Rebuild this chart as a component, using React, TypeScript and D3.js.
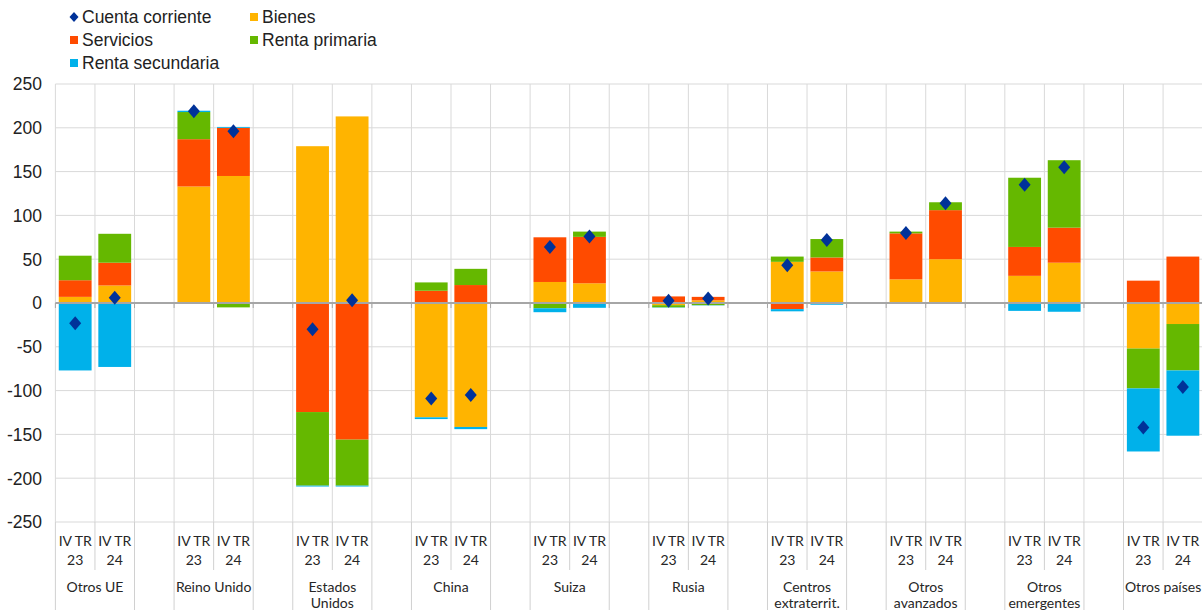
import { scaleBand, scaleLinear, stack, stackOffsetDiverging } from 'd3';

const categories = ['Otros UE', 'Reino Unido', 'Estados Unidos', 'China', 'Suiza', 'Rusia',
  'Centros extraterrit.', 'Otros avanzados', 'Otros emergentes', 'Otros países'];
const categoryLines = [['Otros UE'], ['Reino Unido'], ['Estados', 'Unidos'], ['China'], ['Suiza'], ['Rusia'],
  ['Centros', 'extraterrit.'], ['Otros', 'avanzados'], ['Otros', 'emergentes'], ['Otros países']];
const periods = ['IV TR 23', 'IV TR 24'];
const periodLines = [['IV TR', '23'], ['IV TR', '24']];
const yTicks = [-250, -200, -150, -100, -50, 0, 50, 100, 150, 200, 250];

// one value per bar: cat0 23, cat0 24, cat1 23, ...
const bienes = [7, 20, 133, 145, 179, 213, -130.5, -141.5, 24, 22.5, -2.5, 3, 47, 36, 27, 50, 31, 46, -52, -24];
const servicios = [19, 26, 54, 55, -124.5, -156, 14, 20.5, 51, 53, 7.5, 4, -7, 16, 52.5, 56, 33, 40, 25.5, 53];
const rentaPrimaria = [28, 33, 31, -5, -84, -52.5, 9.5, 18.5, -6, 6, -2.5, -2.5, 6, 21, 2, 9, 79, 77, -45.5, -53];
const rentaSecundaria = [-77, -73, 1.5, 1, -1, -1, -2, -2.5, -4.5, -5.5, -0.3, -0.3, -2.5, -2, -1, -1, -9, -10, -72, -74.5];
const cuentaCorriente = [-23, 6, 219, 196, -30, 3, -109, -105, 64, 76, 2.5, 5, 43, 72, 80, 114, 135, 155, -142, -96];

const seriesNames = ['Bienes', 'Servicios', 'Renta primaria', 'Renta secundaria'];
const colors = ['#FFB400', '#FF4B00', '#65B800', '#00B1EA'];
const ccColor = '#003299';

const W = 1202;
const H = 610;
const left = 55.4;
const step = 39.56;
const top = 84;
const bottom = 522;

export default function App() {
  const slots: string[] = [];
  categories.forEach((c, i) => {
    periods.forEach((p) => slots.push(i + '|' + p));
    slots.push(i + '|gap');
  });

  const x = scaleBand<string>()
    .domain(slots)
    .range([left, left + step * slots.length])
    .paddingInner(0.17)
    .paddingOuter(0.085);
  const y = scaleLinear().domain([-250, 250]).range([bottom, top]);

  const rows = bienes.map((_, i) => ({
    key: Math.floor(i / 2) + '|' + periods[i % 2],
    'Bienes': bienes[i],
    'Servicios': servicios[i],
    'Renta primaria': rentaPrimaria[i],
    'Renta secundaria': rentaSecundaria[i],
    cc: cuentaCorriente[i],
  }));

  const stacked = stack<any>().keys(seriesNames).offset(stackOffsetDiverging)(rows);

  const bounds = slots.map((_, i) => left + step * i).concat([left + step * slots.length]);
  const font = '"Liberation Sans", Arial, sans-serif';
  const catFont = 'Lato, "Liberation Sans", sans-serif';

  const legend = [
    { name: 'Cuenta corriente', color: ccColor, diamond: true, x: 74, y: 17 },
    { name: 'Bienes', color: colors[0], x: 254, y: 17 },
    { name: 'Servicios', color: colors[1], x: 74, y: 40 },
    { name: 'Renta primaria', color: colors[2], x: 254, y: 40 },
    { name: 'Renta secundaria', color: colors[3], x: 74, y: 63 },
  ];

  return (
    <div style={{ position: 'fixed', left: 0, top: 0 }}>
      <svg width={W} height={H} style={{ display: 'block', background: '#fff' }}>
        {/* horizontal grid */}
        {yTicks.map((t) => (
          <line key={'h' + t} x1={left} x2={W} y1={y(t)} y2={y(t)} stroke="#d9d9d9" strokeWidth={1} />
        ))}
        {/* vertical grid */}
        {bounds.map((b, i) => (
          <line key={'v' + i} x1={b} x2={b} y1={top} y2={bottom} stroke="#d9d9d9" strokeWidth={1} />
        ))}
        {/* y labels */}
        {yTicks.map((t) => (
          <text key={'yl' + t} x={42} y={y(t)} dy="0.36em" textAnchor="end" fontFamily={font} fontSize={17.5} fill="#222">
            {t}
          </text>
        ))}
        {/* bars */}
        {stacked.map((s, si) => (
          <g key={s.key} fill={colors[si]}>
            {s.map((d: any, i: number) => (
              <rect
                key={i}
                x={x(d.data.key)}
                width={x.bandwidth()}
                y={y(Math.max(d[0], d[1]))}
                height={Math.abs(y(d[0]) - y(d[1]))}
              />
            ))}
          </g>
        ))}
        {/* zero line */}
        <line x1={left} x2={W} y1={y(0)} y2={y(0)} stroke="#a6a6a6" strokeWidth={2} />
        {bounds.map((b, i) => (
          <line key={'t' + i} x1={b} x2={b} y1={y(0)} y2={y(0) + 5} stroke="#a6a6a6" strokeWidth={1} />
        ))}
        {/* current account diamonds */}
        {rows.map((r) => {
          const cx = (x(r.key) as number) + x.bandwidth() / 2;
          const cy = y(r.cc);
          return (
            <path key={'cc' + r.key} d={`M${cx},${cy - 7}L${cx + 6},${cy}L${cx},${cy + 7}L${cx - 6},${cy}Z`} fill={ccColor} />
          );
        })}
        {/* category axis */}
        {categories.map((c, i) => {
          const x0 = bounds[i * 3];
          const x1 = bounds[i * 3 + 1];
          const x2 = bounds[i * 3 + 2];
          return (
            <g key={'cat' + i}>
              <line x1={x0} x2={x0} y1={bottom} y2={H} stroke="#d0d0d0" />
              <line x1={x1} x2={x1} y1={bottom} y2={570} stroke="#d0d0d0" />
              <line x1={x2} x2={x2} y1={bottom} y2={H} stroke="#d0d0d0" />
              {periods.map((p, pi) => {
                const cx = (x(i + '|' + p) as number) + x.bandwidth() / 2;
                return (
                  <text key={p} x={cx} textAnchor="middle" fontFamily={catFont} fontSize={14} fill="#262626">
                    {periodLines[pi].map((l, li) => (
                      <tspan key={li} x={cx} y={546 + li * 19}>{l}</tspan>
                    ))}
                  </text>
                );
              })}
              <text x={x1} textAnchor="middle" fontFamily={catFont} fontSize={14} fill="#262626">
                {categoryLines[i].map((l, li) => (
                  <tspan key={li} x={x1} y={592 + li * 16}>{l}</tspan>
                ))}
              </text>
            </g>
          );
        })}
        {/* legend */}
        {legend.map((l) => (
          <g key={l.name}>
            {l.diamond ? (
              <path d={`M${l.x},${l.y - 5}L${l.x + 4.5},${l.y}L${l.x},${l.y + 5}L${l.x - 4.5},${l.y}Z`} fill={l.color} />
            ) : (
              <rect x={l.x - 4} y={l.y - 4} width={8} height={8} fill={l.color} />
            )}
            <text x={l.x + 8} y={l.y} dy="0.36em" fontFamily={font} fontSize={17.5} fill="#222">
              {l.name}
            </text>
          </g>
        ))}
      </svg>
    </div>
  );
}
